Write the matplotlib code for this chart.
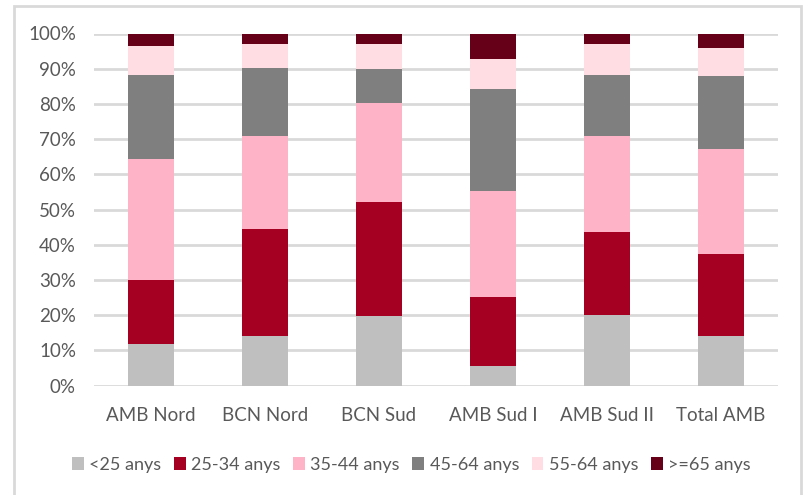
import numpy as np
import matplotlib.pyplot as plt
from matplotlib.patches import Rectangle

# Age distribution by territory (percent of each bar)
territories = ["AMB Nord", "BCN Nord", "BCN Sud", "AMB Sud I", "AMB Sud II", "Total AMB"]
age_groups = ["<25 anys", "25-34 anys", "35-44 anys", "45-64 anys", "55-64 anys", ">=65 anys"]

under_25 = [11.9, 14.0, 19.7, 5.6, 20.1, 14.0]
age_25_34 = [18.0, 30.4, 32.5, 19.7, 23.5, 23.3]
age_35_44 = [34.4, 26.5, 28.2, 30.1, 27.3, 29.8]
age_45_64 = [23.9, 19.4, 9.5, 28.8, 17.3, 20.7]
age_55_64 = [8.2, 6.8, 7.2, 8.6, 8.9, 8.2]
over_65 = [3.6, 2.9, 2.9, 7.2, 2.9, 4.0]

colors = ["#bfbfbf", "#a50021", "#ffb3c6", "#7f7f7f", "#ffdde3", "#660018"]
text_color = "#595959"
grid_color = "#d9d9d9"

plt.rcParams["font.family"] = ["Lato", "DejaVu Sans"]

fig = plt.figure(figsize=(8.05, 4.95), dpi=100)
ax = fig.add_axes([94 / 805, 1 - 385.7 / 495, (778 - 94) / 805, (385.7 - 33.5) / 495])

series = [under_25, age_25_34, age_35_44, age_45_64, age_55_64, over_65]
x = np.arange(len(territories))
bottom = np.zeros(len(territories))
handles = []
for vals, col, lab in zip(series, colors, age_groups):
    vals = np.array(vals)
    b = ax.bar(x, vals, 0.4, bottom=bottom, color=col, label=lab, zorder=3)
    handles.append(b)
    bottom += vals

ax.set_xlim(-0.5, len(territories) - 0.5)
ax.set_ylim(0, 100)
ax.set_yticks(np.arange(0, 101, 10))
ax.set_yticklabels([f"{v}%" for v in range(0, 101, 10)])
ax.set_xticks(x)
ax.set_xticklabels(territories)
ax.tick_params(length=0, colors=text_color, labelsize=13.5)
ax.tick_params(axis="y", pad=13)
ax.tick_params(axis="x", pad=15)
ax.yaxis.grid(True, color=grid_color, linewidth=2, zorder=0)
for s in ax.spines.values():
    s.set_visible(False)

leg = fig.legend(handles, age_groups, loc="center", bbox_to_anchor=(0.511, 1 - 465 / 495),
                 ncol=6, frameon=False, fontsize=13, handlelength=0.65,
                 handleheight=0.7, handletextpad=0.3, columnspacing=0.7)
for t in leg.get_texts():
    t.set_color(text_color)

# outer chart border
fig.patches.append(Rectangle((14 / 805, -0.01), (800.5 - 14) / 805, 1 - 6 / 495 + 0.01,
                             transform=fig.transFigure, fill=False,
                             edgecolor=grid_color, linewidth=2))

fig.savefig("out.png", dpi=100)
plt.close(fig)
